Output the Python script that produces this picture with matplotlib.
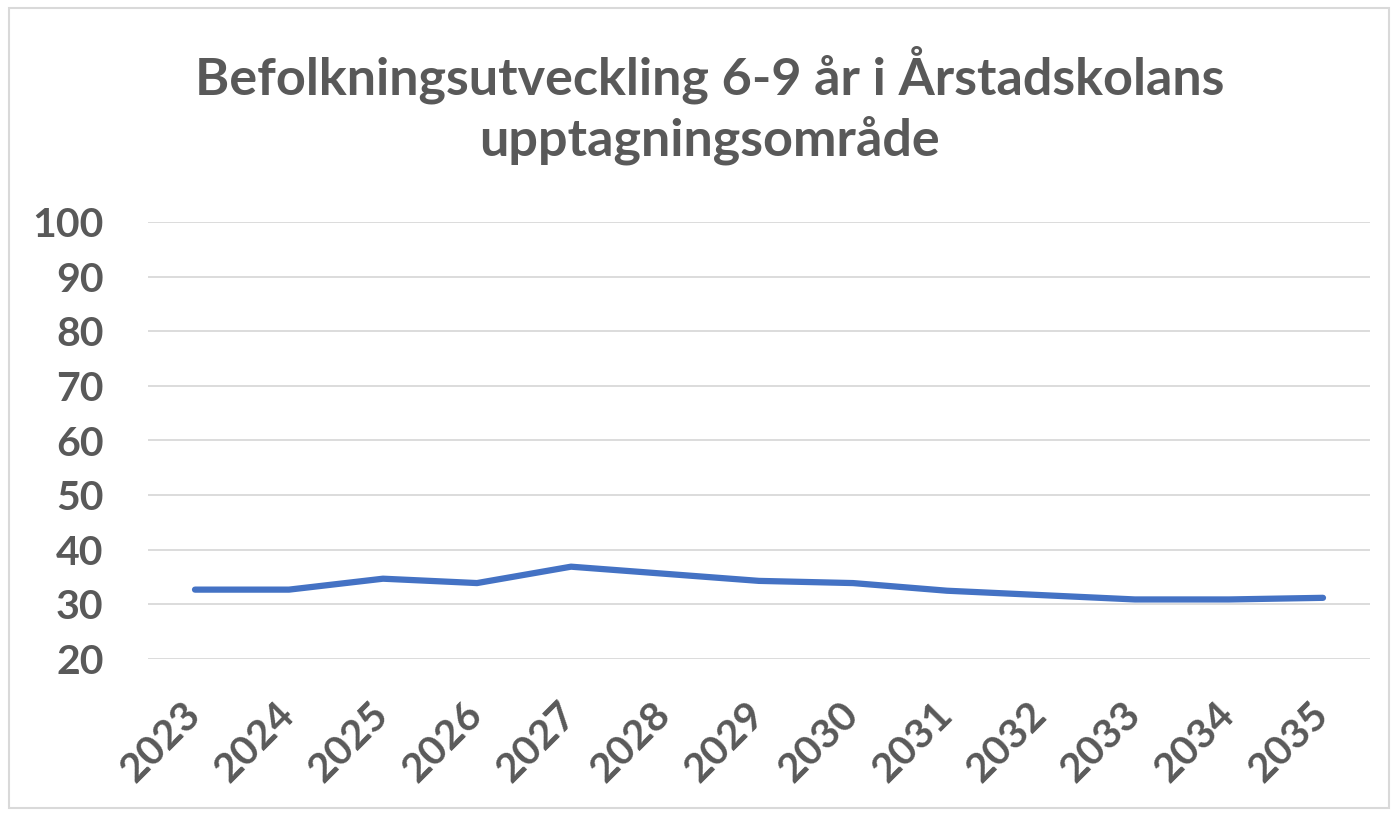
import matplotlib.pyplot as plt
from matplotlib.patches import Rectangle

# Befolkningsprognos 6-9 år
years = ["2023", "2024", "2025", "2026", "2027", "2028", "2029",
         "2030", "2031", "2032", "2033", "2034", "2035"]
antal = [32.7, 32.7, 34.7, 33.9, 36.9, 35.6, 34.3, 33.9, 32.5, 31.7, 30.9, 30.9, 31.2]
y_ticks = [20, 30, 40, 50, 60, 70, 80, 90, 100]

TEXT = '#595959'
plt.rcParams['font.family'] = ['Lato', 'DejaVu Sans']

fig = plt.figure(figsize=(13.97, 8.13), dpi=100)
ax = fig.add_axes([148 / 1397, 1 - 659 / 813, 1222 / 1397, 437 / 813])

x = list(range(len(years)))
ax.plot(x, antal, color='#4472c4', linewidth=4.5, solid_capstyle='round', zorder=3)

ax.set_xlim(-0.5, len(years) - 0.5)
ax.set_ylim(20, 100)
ax.set_yticks(y_ticks)
ax.set_xticks(x)
ax.set_xticklabels(years, rotation=45, ha='right', va='center', rotation_mode='anchor')
ax.grid(axis='y', color='#d9d9d9', linewidth=1.3)
ax.set_axisbelow(True)
for s in ax.spines.values():
    s.set_visible(False)
ax.tick_params(axis='both', length=0, colors=TEXT, labelsize=29.5)
ax.tick_params(axis='y', pad=32)
ax.tick_params(axis='x', pad=36)
for lbl in ax.get_xticklabels() + ax.get_yticklabels():
    lbl.set_fontweight('bold')

fig.text(0.508, 1 - 105 / 813, "Befolkningsutveckling 6-9 år i Årstadskolans\nupptagningsområde",
         ha='center', va='center', fontsize=37.5, fontweight='bold', color=TEXT, linespacing=1.3)

# ram runt diagrammet
fig.patches.append(Rectangle((9 / 1397, 1 - 808 / 813), 1380 / 1397, 800 / 813,
                             transform=fig.transFigure, fill=False,
                             edgecolor='#d9d9d9', linewidth=1.5))

fig.savefig('out.png', dpi=100)
